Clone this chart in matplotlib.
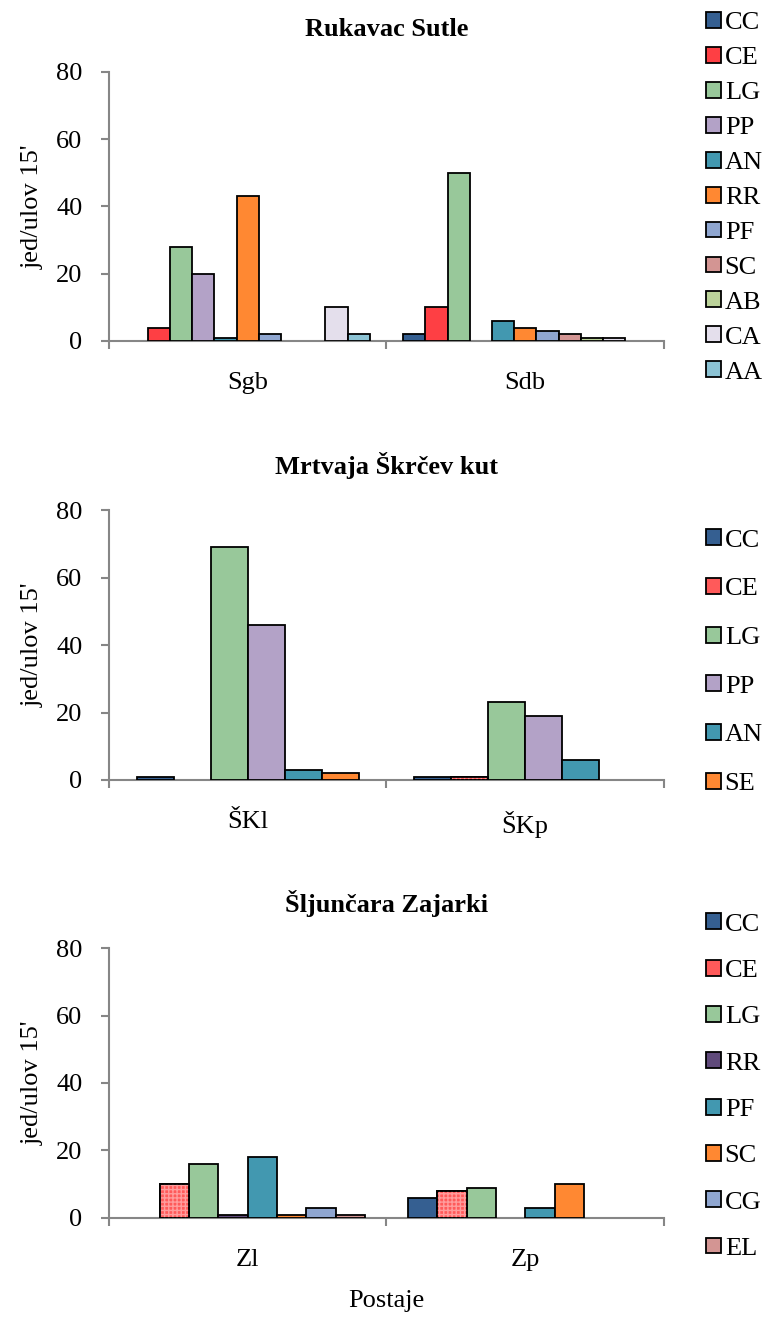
import matplotlib
matplotlib.use('Agg')
import matplotlib.pyplot as plt
from matplotlib.patches import Patch
import numpy as np

plt.rcParams['font.family'] = ['Liberation Serif', 'DejaVu Serif']

# Rukavac Sutle
p1_title = 'Rukavac Sutle'
p1_sites = ['Sgb', 'Sdb']
p1_species = ['CC', 'CE', 'LG', 'PP', 'AN', 'RR', 'PF', 'SC', 'AB', 'CA', 'AA']
p1_sgb = [0, 4, 28, 20, 1, 43, 2, 0, 0, 10, 2]
p1_sdb = [2, 10, 50, 0, 6, 4, 3, 2, 1, 1, 0]
p1_colors = ['#355f91', '#fe3f44', '#98c89a', '#b3a2c7', '#4298b0', '#ff8832',
             '#8fa6d0', '#d39593', '#bcd39a', '#e4dfec', '#8cc3d4']

# Mrtvaja Škrčev kut
p2_title = 'Mrtvaja Škrčev kut'
p2_sites = ['ŠKl', 'ŠKp']
p2_species = ['CC', 'CE', 'LG', 'PP', 'AN', 'SE']
p2_skl = [1, 0, 69, 46, 3, 2]
p2_skp = [1, 1, 23, 19, 6, 0]
p2_colors = ['#355f91', '#ff5a5a', '#98c89a', '#b3a2c7', '#4298b0', '#ff8832']

# Šljunčara Zajarki
p3_title = 'Šljunčara Zajarki'
p3_sites = ['Zl', 'Zp']
p3_species = ['CC', 'CE', 'LG', 'RR', 'PF', 'SC', 'CG', 'EL']
p3_zl = [0, 10, 16, 1, 18, 1, 3, 1]
p3_zp = [6, 8, 9, 0, 3, 10, 0, 0]
p3_colors = ['#355f91', '#ff5a5a', '#98c89a', '#604a7b', '#4298b0', '#ff8832',
             '#8fa6d0', '#d39593']

spine_col = '#868686'
fs = 19

fig = plt.figure(figsize=(7.66, 13.2), dpi=100)

panels = [
    (p1_title, p1_sites, p1_species, [p1_sgb, p1_sdb], p1_colors, None,
     [0.1423, 0.7417, 0.7245, 0.2038], 0.88, (0.922, 0.991), 0.48),
    (p2_title, p2_sites, p2_species, [p2_skl, p2_skp], p2_colors, 'CE',
     [0.1423, 0.4091, 0.7245, 0.2045], 0.80, (0.922, 0.599), 1.0),
    (p3_title, p3_sites, p3_species, [p3_zl, p3_zp], p3_colors, 'CE',
     [0.1423, 0.0773, 0.7245, 0.2045], 0.845, (0.922, 0.308), 0.91),
]

for (title, sites, species, vals, colors, hatched, rect, group_w, leg_xy, lspace) in panels:
    ax = fig.add_axes(rect)
    vals = np.array(vals)
    n = len(species)
    w = group_w / n
    x = np.arange(len(sites))
    for i, sp in enumerate(species):
        xs = x - group_w / 2 + w * (i + 0.5)
        hs = vals[:, i]
        keep = hs > 0
        ax.bar(xs[keep], hs[keep], width=w, color=colors[i],
               edgecolor='black', linewidth=1.3, zorder=3)
        if sp == hatched:
            # fine red grid texture on CE bars
            ax.bar(xs[keep], hs[keep], width=w, color='none', hatch='++++',
                   edgecolor='#ff9c9c', linewidth=0, zorder=3.5)
            ax.bar(xs[keep], hs[keep], width=w, color='none',
                   edgecolor='black', linewidth=1.3, zorder=4)

    ax.set_xlim(-0.5, len(sites) - 0.5)
    ax.set_ylim(0, 80)
    ax.set_yticks([0, 20, 40, 60, 80])
    ax.set_xticks(x)
    ax.set_xticklabels(sites)
    ax.set_xticks(np.arange(len(sites) + 1) - 0.5, minor=True)
    ax.tick_params(axis='x', which='major', length=0, pad=22, labelsize=fs)
    ax.tick_params(axis='x', which='minor', length=6, width=1.5, color=spine_col)
    ax.tick_params(axis='y', length=6, width=1.5, color=spine_col, pad=13, labelsize=fs)
    for s in ['top', 'right']:
        ax.spines[s].set_visible(False)
    for s in ['left', 'bottom']:
        ax.spines[s].set_color(spine_col)
        ax.spines[s].set_linewidth(1.5)
    ax.set_ylabel("jed/ulov 15'", fontsize=fs)
    ax.yaxis.set_label_coords(-0.118, 0.5)
    ax.set_title(title, fontsize=fs, fontweight='bold', pad=26)

    handles = [Patch(facecolor=colors[i], edgecolor='black', linewidth=1.3, label=sp)
               for i, sp in enumerate(species)]
    fig.legend(handles=handles, loc='upper left', bbox_to_anchor=leg_xy,
               frameon=False, fontsize=fs, borderpad=0, borderaxespad=0,
               handlelength=0.55, handleheight=0.55, handletextpad=0.15,
               labelspacing=lspace)

    last_ax = ax

last_ax.set_xlabel('Postaje', fontsize=fs, labelpad=14)

fig.savefig('out.png', dpi=100)
